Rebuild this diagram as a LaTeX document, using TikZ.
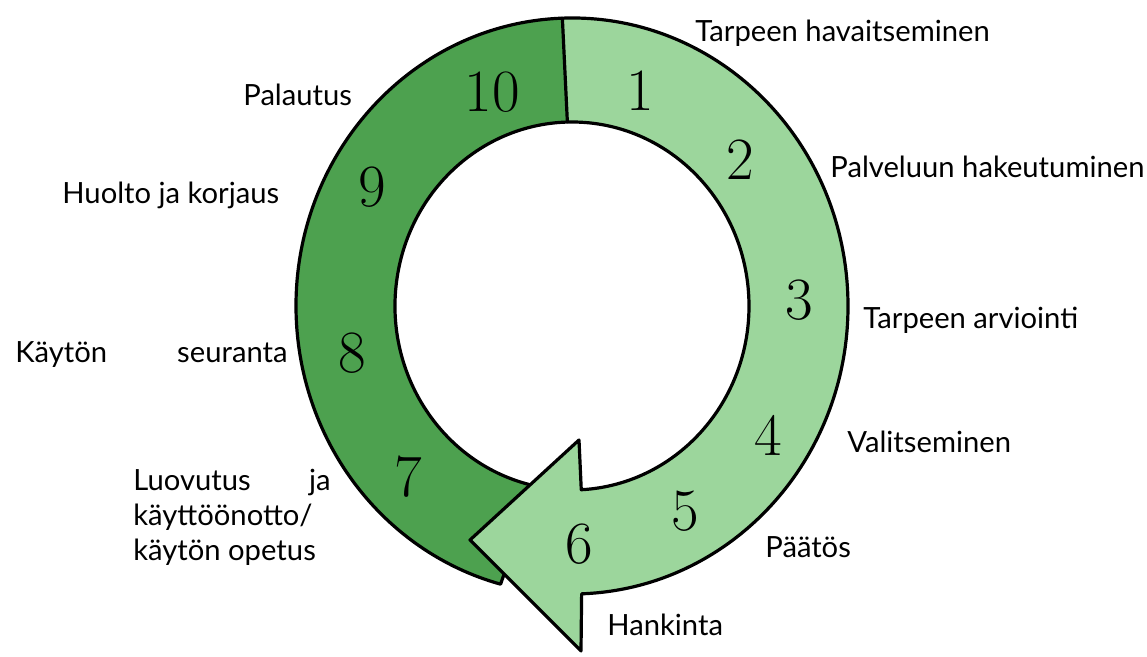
\documentclass[tikz,border=0pt]{standalone}
\usepackage{fontspec}
\newfontfamily\labfont{Lato}
\usetikzlibrary{calc}
\definecolor{darkgr}{RGB}{77,161,79}
\definecolor{lightgr}{RGB}{156,214,156}
\tikzset{
  ring/.style={draw=black, line width=1.6pt, line join=round},
  num/.style={font=\fontsize{30}{30}\selectfont, inner sep=0pt},
  lab/.style={font=\labfont\fontsize{14.6}{17.5}\selectfont, anchor=west, inner sep=0pt, align=left},
}
\begin{document}
\begin{tikzpicture}[x=0.5pt,y=0.5pt]
\useasboundingbox (0,0) rectangle (1147,657);
\coordinate (c) at (572,351);
% dark part (steps 7-10)
\fill[darkgr] ($(c)+(92:276 and 288)$) arc[start angle=92, end angle=255, x radius=276, y radius=288]
  -- ($(c)+(258:177 and 184)$) arc[start angle=258, end angle=91.5, x radius=177, y radius=184] -- cycle;
\draw[ring] ($(c)+(92:276 and 288)$) arc[start angle=92, end angle=255, x radius=276, y radius=288]
  -- ($(c)+(258:177 and 184)$) arc[start angle=258, end angle=91.5, x radius=177, y radius=184];
% light part with arrowhead (steps 1-6)
\filldraw[ring, fill=lightgr] ($(c)+(92:276 and 288)$) arc[start angle=92, end angle=-88, x radius=276, y radius=288]
  -- (581,6) -- (470,117) -- (579,217)
  -- ($(c)+(-87:177 and 184)$) arc[start angle=-87, end angle=91.5, x radius=177, y radius=184] -- cycle;
% divider
\draw[line width=0.8pt] ($(c)+(92:276 and 288)$) -- ($(c)+(91.5:177 and 184)$);
% numbers
\node[num] (n1) at (640,566) {1};
\node[num] (n2) at (740,497) {2};
\node[num] (n3) at (799,357) {3};
\node[num] (n4) at (768,222) {4};
\node[num] (n5) at (685,146) {5};
\node[num] (n6) at (579,113) {6};
\node[num] (n7) at (408,180) {7};
\node[num] (n8) at (352,304) {8};
\node[num] (n9) at (372,470) {9};
\node[num] (n10) at (492,565) {10};
% labels
\node[lab] (l1) at (695,624) {Tarpeen havaitseminen};
\node[lab] (l2) at (830,490) {Palveluun hakeutuminen};
\node[lab] (l3) at (863,337) {Tarpeen arviointi};
\node[lab] (l4) at (847,215) {Valitseminen};
\node[lab] (l5) at (765,110) {Päätös};
\node[lab] (l6) at (607,32) {Hankinta};
\node[lab] (l10) at (243,562) {Palautus};
\node[lab] (l9) at (62,462) {Huolto ja korjaus};
\node[lab] (l8) at (15,302) {Käytön\hspace{2.4em}seuranta};
\node[lab, anchor=north west] (l7) at (133,188) {Luovutus\hspace{2em}ja\\käyttöönotto/\\käytön opetus};
\end{tikzpicture}
\end{document}
